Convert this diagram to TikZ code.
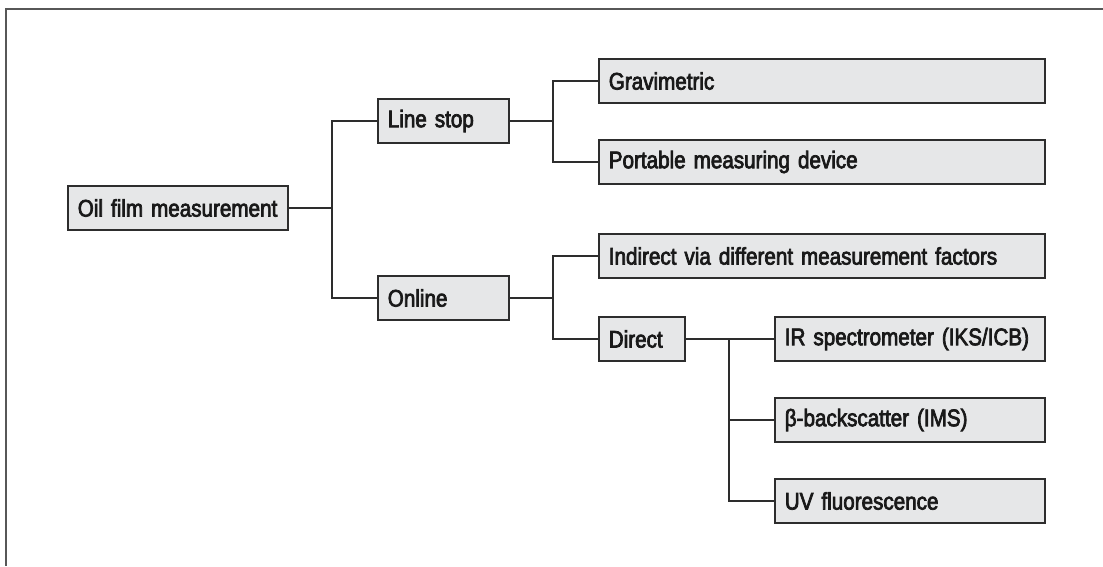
\documentclass[tikz,border=0pt]{standalone}
\usepackage{fontspec}
\setmainfont{Liberation Sans}[FakeStretch=0.86,FakeBold=3]
\usepackage{xcolor}
\usepackage{tikz}
\definecolor{boxgray}{RGB}{230,231,232}
\definecolor{linegray}{RGB}{45,45,45}

\begin{document}
\begin{tikzpicture}[x=1pt,y=-1pt,
  box/.style={draw=linegray,fill=boxgray,line width=1.6pt,anchor=west,
    minimum height=44pt,inner xsep=10pt,align=left,text=black!90,
    font=\fontsize{24}{27}\selectfont,
    execute at begin node={\hbox\bgroup},execute at end node={\egroup}},
  link/.style={draw=linegray,line width=1.6pt},
  frame/.style={draw=linegray!80,line width=1.6pt}]
\useasboundingbox(0,0)rectangle(1103,566);
\draw[frame](1103,9)--(6,9)--(6,566);
% boxes
\node[box,text width=200pt](oil)at(67,208){Oil film measurement};
\node[box,text width=111pt](linestop)at(377,121){Line stop};
\node[box,text width=111pt](online)at(377,298){Online};
\node[box,text width=426pt](grav)at(598,81){Gravimetric};
\node[box,text width=426pt](portable)at(598,162){Portable measuring device};
\node[box,text width=426pt](indirect)at(598,256){Indirect via different measurement factors};
\node[box,text width=66pt](direct)at(598,339){Direct};
\node[box,text width=250pt](ir)at(774,339){IR spectrometer (IKS/ICB)};
\node[box,text width=250pt](beta)at(774,420){β-backscatter (IMS)};
\node[box,text width=250pt](uv)at(774,501){UV fluorescence};
% junctions
\coordinate(ja)at(332,208);
\coordinate(jb)at(553,121);
\coordinate(jc)at(553,298);
\coordinate(jd)at(729,339);
% links
\draw[link](oil.east)--(ja);
\draw[link](linestop.west)-|(ja)|-(online.west);
\draw[link](linestop.east)--(jb);
\draw[link](grav.west)-|(jb)|-(portable.west);
\draw[link](online.east)--(jc);
\draw[link](indirect.west)-|(jc)|-(direct.west);
\draw[link](direct.east)--(ir.west);
\draw[link](jd)|-(beta.west);
\draw[link](jd)|-(uv.west);
\end{tikzpicture}
\end{document}
